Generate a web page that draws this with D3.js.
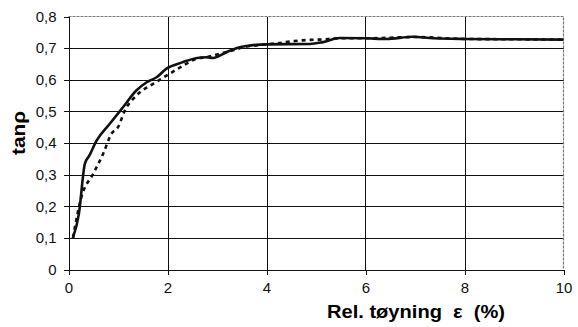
<!DOCTYPE html>
<meta charset="utf-8">
<style>
body { margin: 0; background: #fff; }
svg { font-family: "Liberation Sans", Arial, sans-serif; }
.grid line { stroke: #111; stroke-width: 1; shape-rendering: crispEdges; }
.axis path, .axis line { stroke: #111; shape-rendering: crispEdges; }
</style>
<svg width="578" height="327"></svg>
<script src="https://d3js.org/d3.v7.min.js"></script>
<script>

// solid curve (tøyning %, tanρ)
var solidX = [0.09, 0.21, 0.33, 0.42, 0.57, 0.83, 1.1, 1.37, 1.58, 1.78, 1.98, 2.3, 2.6, 2.79, 2.92, 3.19, 3.46, 3.66, 4.0, 4.88, 5.14, 5.48, 6.02, 6.42, 6.96, 7.37, 8.04, 9.0, 10.0];
var solidY = [0.10, 0.176, 0.334, 0.36, 0.408, 0.46, 0.513, 0.566, 0.592, 0.608, 0.635, 0.655, 0.669, 0.671, 0.669, 0.687, 0.703, 0.708, 0.712, 0.713, 0.719, 0.732, 0.731, 0.729, 0.736, 0.731, 0.729, 0.728, 0.727];

// dashed curve
var dashX = [0.09, 0.26, 0.5, 0.7, 0.87, 1.0, 1.14, 1.37, 1.71, 1.98, 2.32, 2.58, 2.8, 3.2, 3.6, 4.0, 4.26, 4.54, 4.88, 5.08, 5.48, 6.0, 7.0, 8.0, 9.0, 10.0];
var dashY = [0.10, 0.229, 0.303, 0.366, 0.43, 0.45, 0.503, 0.55, 0.587, 0.613, 0.645, 0.666, 0.672, 0.688, 0.705, 0.712, 0.716, 0.722, 0.726, 0.727, 0.731, 0.731, 0.735, 0.729, 0.728, 0.727];

var xTicks = [0, 2, 4, 6, 8, 10];
var yTicks = [0, 0.1, 0.2, 0.3, 0.4, 0.5, 0.6, 0.7, 0.8];

var svg = d3.select("svg"),
    pl = 68.5, pr = 563.5, pt = 16.5, pb = 269.5;

var x = d3.scaleLinear().domain([0, 10]).range([pl, pr]);
var y = d3.scaleLinear().domain([0, 0.8]).range([pb, pt]);

var fmt = function(d) { return d === 0 ? "0" : d3.format(".1f")(d).replace(".", ","); };

// grid
var grid = svg.append("g").attr("class", "grid");
grid.selectAll(".h").data(yTicks.slice(1, -1)).enter().append("line")
    .attr("x1", pl).attr("x2", pr)
    .attr("y1", function(d) { return Math.round(y(d)) + 0.5; })
    .attr("y2", function(d) { return Math.round(y(d)) + 0.5; });
grid.selectAll(".v").data(xTicks.slice(1, -1)).enter().append("line")
    .attr("y1", pt).attr("y2", pb)
    .attr("x1", function(d) { return Math.round(x(d)) + 0.5; })
    .attr("x2", function(d) { return Math.round(x(d)) + 0.5; });

// top and right border (lighter)
svg.append("path")
    .attr("d", "M" + pl + "," + pt + "H" + pr + "V" + pb)
    .attr("fill", "none").attr("stroke", "#777").attr("stroke-width", 1.2)
    .attr("stroke-dasharray", "3,1");

// axes
var xAxis = svg.append("g").attr("class", "axis")
    .attr("transform", "translate(0," + pb + ")")
    .call(d3.axisBottom(x).tickValues(xTicks).tickSize(5).tickSizeOuter(0).tickPadding(8).tickFormat(d3.format("d")));
var yAxis = svg.append("g").attr("class", "axis")
    .attr("transform", "translate(" + pl + ",0)")
    .call(d3.axisLeft(y).tickValues(yTicks).tickSize(5).tickSizeOuter(0).tickPadding(7).tickFormat(fmt));

svg.selectAll(".axis").attr("font-family", null).attr("font-size", null);
svg.selectAll(".axis text")
    .style("font-size", "15px")
    .style("fill", "#111");

var line = d3.line().curve(d3.curveMonotoneX)
    .x(function(d) { return x(d[0]); })
    .y(function(d) { return y(d[1]); });

svg.append("path")
    .datum(dashX.map(function(v, i) { return [v, dashY[i]]; }))
    .attr("d", line)
    .attr("fill", "none").attr("stroke", "#111").attr("stroke-width", 2.6)
    .attr("stroke-dasharray", "4,4");

svg.append("path")
    .datum(solidX.map(function(v, i) { return [v, solidY[i]]; }))
    .attr("d", line)
    .attr("fill", "none").attr("stroke", "#111").attr("stroke-width", 2.6);

// axis titles
svg.append("text")
    .attr("transform", "translate(25,133) rotate(-90)")
    .attr("text-anchor", "middle")
    .attr("textLength", 44).attr("lengthAdjust", "spacingAndGlyphs")
    .style("font-size", "18px").style("font-weight", "bold")
    .text("tanρ");

svg.append("text")
    .attr("x", 327).attr("y", 318)
    .attr("textLength", 178).attr("lengthAdjust", "spacingAndGlyphs")
    .style("font-size", "18px").style("font-weight", "bold")
    .attr("xml:space", "preserve")
    .text("Rel. tøyning  ε  (%)");

</script>
